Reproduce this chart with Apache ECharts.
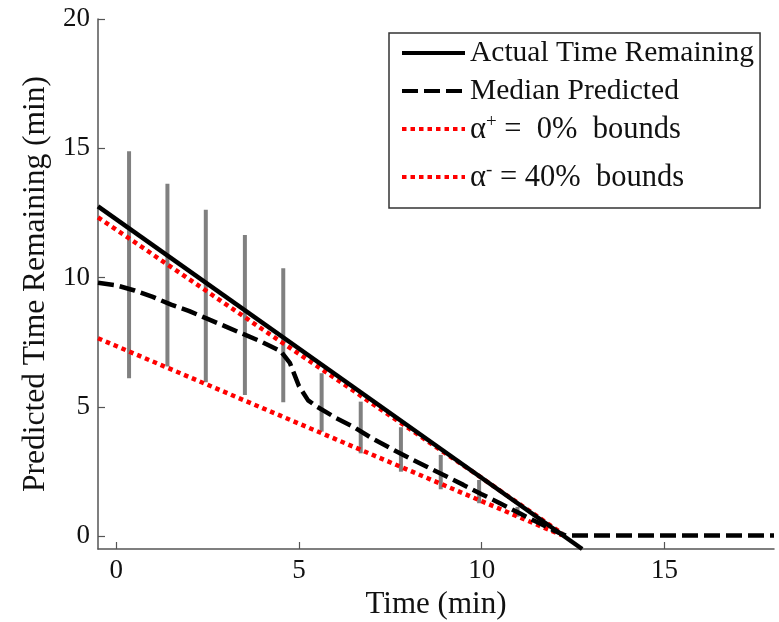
<!DOCTYPE html>
<html>
<head>
<meta charset="utf-8">
<title>Predicted Time Remaining</title>
<script src="https://cdn.jsdelivr.net/npm/echarts@6/dist/echarts.min.js"></script>
<style>
  html, body { margin: 0; padding: 0; background: #ffffff; }
  #chart { width: 779px; height: 622px; }
</style>
</head>
<body>
<div id="chart"></div>
<script>
// Axis ticks
const xTicks = [0, 5, 10, 15];
const yTicks = [0, 5, 10, 15, 20];

// Series names (legend order)
const seriesNames = ['Actual Time Remaining', 'Median Predicted', 'α+ =  0%  bounds', 'α- = 40%  bounds'];

// Actual time remaining (min)
const actualTime = [-0.5, 12.75];
const actualValue = [12.75, -0.5];

// Median predicted time remaining (min)
const medianTime = [-0.5, 0, 0.5, 1, 1.5, 2, 2.5, 3, 3.5, 4, 4.5, 4.75, 5.0, 5.25, 5.5, 6, 6.5, 7, 7.5, 8, 8.5, 9, 9.5, 10, 10.5, 11, 11.5, 12, 12.3, 18];
const medianValue = [9.8, 9.7, 9.5, 9.25, 8.95, 8.7, 8.4, 8.1, 7.8, 7.5, 7.15, 6.7, 5.8, 5.25, 5.0, 4.58, 4.22, 3.78, 3.4, 3.03, 2.68, 2.33, 1.98, 1.62, 1.27, 0.91, 0.55, 0.2, 0.02, 0.02];

// alpha+ = 0% bound
const upperTime = [-0.5, 0, 2, 4, 6, 8, 10, 12.2];
const upperValue = [12.33, 11.85, 9.93, 8.0, 6.09, 4.17, 2.25, 0.1];

// alpha- = 40% bound
const lowerTime = [-0.5, 0, 2, 4, 6, 8, 10, 12.2];
const lowerValue = [7.65, 7.35, 6.15, 4.95, 3.75, 2.55, 1.35, 0.03];

// Prediction spread at each evaluation time
const barTime = [0.35, 1.4, 2.45, 3.52, 4.57, 5.62, 6.69, 7.79, 8.88, 9.93, 10.98];
const barLow = [6.1, 6.56, 5.95, 5.46, 5.18, 4.04, 3.2, 2.49, 1.81, 1.27, 0.75];
const barHigh = [14.88, 13.63, 12.62, 11.65, 10.36, 6.3, 5.2, 4.21, 3.14, 2.17, 1.13];

const FONT = 'Liberation Serif';
const TEXT = '#111111';
const AXIS = '#555555';

function pairs(xs, ys) { return xs.map((x, i) => [x, ys[i]]); }

const chart = echarts.init(document.getElementById('chart'), null, { renderer: 'canvas' });

chart.setOption({
  animation: false,
  backgroundColor: '#ffffff',
  grid: { left: 98, right: 5, top: 19, bottom: 73, containLabel: false, outerBoundsMode: 'none' },
  legend: {
    orient: 'vertical',
    left: 389,
    top: 33,
    padding: [4, 6, 5, 11],
    itemGap: 6,
    itemWidth: 63,
    itemHeight: 14,
    backgroundColor: '#ffffff',
    borderColor: '#333333',
    borderWidth: 1.5,
    borderRadius: 0,
    selectedMode: false,
    itemStyle: { color: 'rgba(0,0,0,0)', borderWidth: 0 },
    lineStyle: { width: 4 },
    data: seriesNames,
    formatter: function (name) {
      if (name.charAt(0) === 'α') {
        return '{m|α}{sup|' + name.charAt(1) + '}{m|' + name.slice(2) + '}';
      }
      return name;
    },
    textStyle: {
      fontFamily: FONT, fontSize: 29.5, color: TEXT, lineHeight: 32,
      rich: {
        m: { fontFamily: FONT, fontSize: 30.5, color: TEXT, lineHeight: 32, verticalAlign: 'bottom' },
        sup: { fontFamily: FONT, fontSize: 19, color: TEXT, lineHeight: 18, verticalAlign: 'top', padding: [0, 0, 23, 0] }
      }
    }
  },
  xAxis: {
    type: 'value',
    min: -0.5,
    max: 18,
    name: 'Time (min)',
    nameLocation: 'middle',
    nameGap: 39,
    nameTextStyle: { fontFamily: FONT, fontSize: 31, color: TEXT },
    axisLine: { onZero: false, lineStyle: { color: AXIS, width: 1.5 } },
    axisTick: { inside: true, length: 7, customValues: xTicks, lineStyle: { color: AXIS, width: 1.2 } },
    axisLabel: { customValues: xTicks, fontFamily: FONT, fontSize: 27, color: TEXT, margin: 8 },
    splitLine: { show: false }
  },
  yAxis: {
    type: 'value',
    min: -0.5,
    max: 20,
    name: 'Predicted Time Remaining (min)',
    nameLocation: 'middle',
    nameGap: 46,
    nameTextStyle: { fontFamily: FONT, fontSize: 31.5, color: TEXT },
    axisLine: { show: true, onZero: false, lineStyle: { color: AXIS, width: 1.5 } },
    axisTick: { show: true, inside: true, length: 7, customValues: yTicks, lineStyle: { color: AXIS, width: 1.2 } },
    axisLabel: { customValues: yTicks, fontFamily: FONT, fontSize: 27, color: TEXT, margin: 8 },
    splitLine: { show: false }
  },
  series: [
    {
      name: 'spread',
      type: 'custom',
      z: 1,
      clip: true,
      encode: { x: 0, y: [1, 2] },
      data: barTime.map((t, i) => [t, barLow[i], barHigh[i]]),
      renderItem: function (params, api) {
        const p1 = api.coord([api.value(0), api.value(1)]);
        const p2 = api.coord([api.value(0), api.value(2)]);
        return {
          type: 'line',
          shape: { x1: p1[0], y1: p1[1], x2: p2[0], y2: p2[1] },
          style: { stroke: '#808080', lineWidth: 4 }
        };
      }
    },
    {
      name: seriesNames[3],
      type: 'line',
      z: 2,
      symbol: 'none',
      clip: true,
      data: pairs(lowerTime, lowerValue),
      lineStyle: { color: '#ff0000', width: 4.5, type: [4.5, 4], cap: 'butt' },
      itemStyle: { color: '#ff0000' }
    },
    {
      name: seriesNames[2],
      type: 'line',
      z: 2,
      symbol: 'none',
      clip: true,
      data: pairs(upperTime, upperValue),
      lineStyle: { color: '#ff0000', width: 4.5, type: [4.5, 4], cap: 'butt' },
      itemStyle: { color: '#ff0000' }
    },
    {
      name: seriesNames[1],
      type: 'line',
      z: 3,
      symbol: 'none',
      clip: true,
      data: pairs(medianTime, medianValue),
      lineStyle: { color: '#000000', width: 4.5, type: [16, 6], cap: 'butt' },
      itemStyle: { color: '#000000' }
    },
    {
      name: seriesNames[0],
      type: 'line',
      z: 4,
      symbol: 'none',
      clip: true,
      data: pairs(actualTime, actualValue),
      lineStyle: { color: '#000000', width: 4.5, type: 'solid' },
      itemStyle: { color: '#000000' }
    }
  ]
});
</script>
</body>
</html>
